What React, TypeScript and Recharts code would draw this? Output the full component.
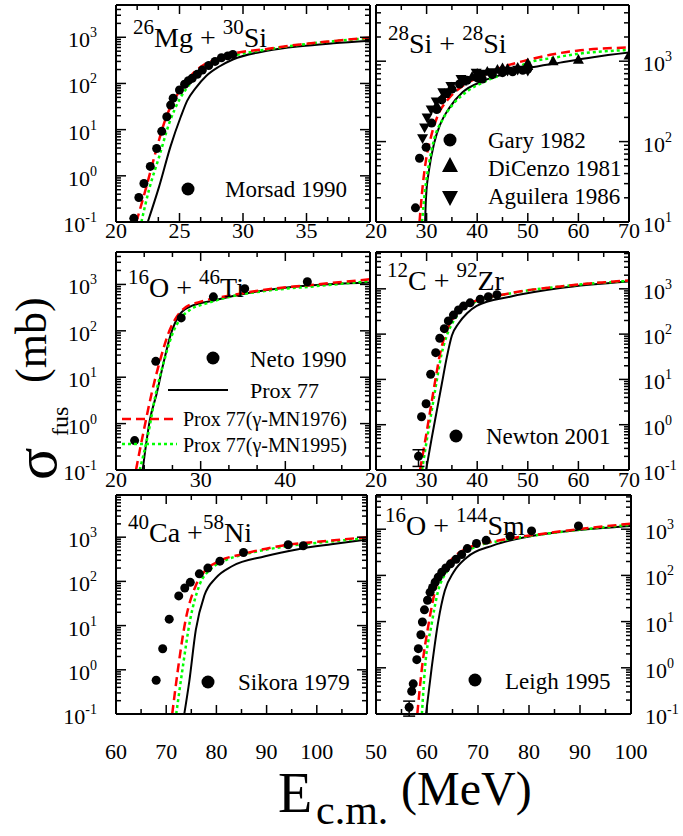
import React from 'react';
import { ComposedChart, Line, Scatter, XAxis, YAxis, ErrorBar } from 'recharts';

type Pt = [number, number];

const FONT = '"Liberation Serif", "Times New Roman", serif';

// 26Mg + 30Si
const mgSiMorsad: Pt[] = [
  [21.4, 0.12], [21.8, 0.34], [22.2, 0.68], [22.7, 1.6], [23.2, 3.9], [23.6, 9.2], [24.0, 19],
  [24.3, 34], [24.5, 48], [25.0, 72], [25.4, 96], [25.7, 115], [26.0, 130], [26.4, 158],
  [26.8, 195], [27.3, 245], [27.8, 300], [28.3, 360], [28.8, 395], [29.2, 425],
];
const mgSiProx77: Pt[] = [
  [22.5, 0.1], [23.4, 0.59], [24.3, 4.4], [25.1, 19], [25.6, 42], [26.3, 81], [27.1, 145],
  [28.1, 230], [29.2, 330], [31.9, 510], [34.5, 640], [37.1, 740], [40, 840],
];
const mgSiMN1976: Pt[] = [
  [21.6, 0.1], [22.4, 0.59], [23.1, 3.1], [23.9, 17], [24.6, 45], [25.3, 87], [26.0, 158],
  [26.95, 257], [27.9, 333], [28.9, 420], [31.9, 560], [34.5, 700], [37.1, 830], [40, 990],
];
const mgSiMN1995: Pt[] = [
  [22.0, 0.1], [22.6, 0.5], [23.4, 2.6], [24.2, 14], [25.0, 45], [25.8, 96], [26.6, 170],
  [27.6, 280], [28.7, 365], [30.1, 450], [32, 550], [34.5, 690], [37.1, 820], [40, 960],
];

// 28Si + 28Si
const siSiGary: Pt[] = [
  [27.8, 15], [28.6, 62], [29.9, 85], [31, 170], [32, 250], [33, 330], [34, 400], [35, 450],
  [36.5, 520], [38, 580], [40, 620], [41, 600], [43, 680], [45, 720], [47, 740], [49, 770], [50, 800],
];
const siSiDiCenzo: Pt[] = [
  [32, 280], [33.5, 390], [35, 470], [37, 560], [39, 640], [40, 700], [42, 740], [44, 780],
  [45, 820], [46, 800], [48, 830], [50, 870], [50, 940], [55, 1000], [60, 1040], [70, 1180],
];
const siSiAguilera: Pt[] = [
  [29.2, 110], [29.6, 150], [30.1, 200], [30.9, 250], [31.9, 316], [33.2, 410], [34.8, 490],
  [36.8, 600], [39.8, 720], [41, 700], [43, 730], [46, 760], [48, 780], [50, 760],
];
const siSiProx77: Pt[] = [
  [29.7, 10], [29.9, 21], [30.5, 45], [31.5, 96], [32.8, 170], [34.5, 263], [37.1, 410],
  [41.1, 565], [46.3, 720], [50, 820], [56.4, 960], [62.9, 1120], [70, 1280],
];
const siSiMN1976: Pt[] = [
  [28.6, 10], [29.2, 27], [29.9, 60], [30.9, 117], [32.2, 210], [34.2, 333], [37.1, 490],
  [41.1, 660], [44.8, 835], [50.1, 1040], [55, 1220], [59.7, 1350], [70, 1480],
];
const siSiMN1995: Pt[] = [
  [29.1, 10], [29.7, 25], [30.5, 54], [31.5, 107], [33.2, 190], [35.2, 290], [38.1, 425],
  [41.7, 565], [46.3, 740], [50.1, 960], [55, 1100], [59.7, 1230], [70, 1380],
];

// 16O + 46Ti
const oTiNeto: Pt[] = [[22.2, 0.43], [24.7, 22], [27.7, 190], [31.5, 540], [35.2, 810], [42.6, 1140]];
const oTiProx77: Pt[] = [
  [23.15, 0.1], [24.0, 1.2], [24.8, 4.4], [25.6, 20], [26.4, 76], [27.4, 210], [28.7, 330],
  [31.5, 450], [35.8, 660], [41.7, 910], [50, 1100],
];
const oTiMN1976: Pt[] = [
  [22.36, 0.1], [23.2, 0.6], [24.2, 4.4], [25.2, 23], [26.2, 89], [27.2, 205], [28.3, 330],
  [29.9, 420], [34, 600], [37.8, 780], [43.7, 1000], [50, 1290],
];
const oTiMN1995: Pt[] = [
  [22.8, 0.1], [23.8, 0.6], [24.7, 4.4], [25.7, 23], [26.6, 80], [27.6, 180], [28.7, 280],
  [30.7, 390], [33.8, 560], [37.8, 730], [43.7, 920], [50, 1180],
];

// 12C + 92Zr
const cZrNewton: Pt[] = [
  [29.0, 1.5], [29.9, 2.9], [30.8, 13], [31.8, 39], [32.6, 81], [33.5, 132], [34.3, 196],
  [35.3, 263], [36.3, 340], [37.3, 415], [38.6, 490], [40.6, 590], [42.2, 670], [43.9, 740],
];
const cZrNewtonLow = { e: 28.4, s: 0.2, err: 0.08 };
const cZrProx77: Pt[] = [
  [29.9, 0.1], [31.0, 0.5], [32.0, 2.0], [33.0, 7.9], [34.0, 31], [35.0, 93], [36.3, 171],
  [38.0, 288], [39.9, 420], [46.5, 670], [56.4, 1040], [70, 1450],
];
const cZrMN1976: Pt[] = [
  [28.7, 0.1], [29.7, 0.43], [30.7, 2.0], [31.7, 9.3], [32.6, 34], [33.6, 93], [35.0, 204],
  [36.6, 340], [38.6, 480], [46.5, 800], [56.4, 1130], [70, 1530],
];
const cZrMN1995: Pt[] = [
  [29.1, 0.1], [30.0, 0.43], [31.0, 2.0], [32.0, 9.3], [32.9, 34], [34.0, 93], [35.4, 200],
  [37.0, 330], [39.0, 470], [46.5, 790], [56.4, 1120], [70, 1500],
];

// 40Ca + 58Ni
const caNiSikora: Pt[] = [
  [68.0, 0.58], [69.3, 3.0], [70.6, 14], [72.5, 47], [73.7, 71], [74.8, 95], [76.6, 148],
  [78.3, 200], [80.7, 287], [85.4, 450], [94.3, 675], [97.3, 640],
];
const caNiProx77: Pt[] = [
  [73.6, 0.1], [74.6, 0.55], [75.9, 8], [77.6, 48], [79.8, 117], [83.1, 220], [89.7, 370],
  [96.3, 535], [102.9, 690], [110, 880],
];
const caNiMN1976: Pt[] = [
  [71.2, 0.1], [72.3, 0.95], [73.9, 14], [75.9, 81], [77.9, 182], [80.5, 287], [85.1, 410],
  [93, 640], [102.9, 840], [110, 1000],
];
const caNiMN1995: Pt[] = [
  [72.0, 0.1], [73.2, 0.95], [74.8, 14], [76.6, 81], [78.9, 190], [81.8, 300], [86.4, 430],
  [93, 600], [102.9, 800], [110, 950],
];

// 16O + 144Sm
const oSmLeigh: Pt[] = [
  [57, 0.31], [57.3, 0.45], [58, 1.5], [58.3, 2.6], [58.8, 5.2], [59.1, 9.8], [59.5, 18],
  [60.1, 29], [60.6, 43], [61.1, 55], [61.6, 71], [62.2, 91], [62.9, 117], [63.7, 145],
  [64.6, 178], [65.7, 224], [66.8, 282], [67.9, 380], [69.7, 490], [71.6, 575], [76.3, 700],
  [80.5, 920], [89.7, 1180],
];
const oSmLeighLow = { e: 56.5, s: 0.14, err: 0.05 };
const oSmProx77: Pt[] = [
  [59.8, 0.1], [60.9, 0.97], [62.2, 10], [63.5, 47], [65.2, 117], [67.8, 245], [73, 447],
  [79.5, 680], [89.4, 950], [100, 1180],
];
const oSmMN1976: Pt[] = [
  [58.1, 0.1], [59, 0.97], [60.3, 8.7], [61.6, 47], [63.2, 126], [65.2, 245], [68.4, 410],
  [74.3, 575], [82.8, 800], [100, 1320],
];
const oSmMN1995: Pt[] = [
  [59, 0.1], [59.6, 0.97], [60.9, 8.7], [62.2, 47], [64, 126], [66.1, 245], [69.4, 410],
  [75, 575], [82.8, 780], [100, 1250],
];

const toRows = (pts: Pt[]) => pts.map(([e, s]) => ({ e, s }));

type Shape = 'circle' | 'up' | 'down';

interface PanelCfg {
  left: number; top: number; w: number; h: number;
  x0: number; x1: number; xMajor: number; xMinor: number; xLabels: number[]; xLabelDy: number;
  y0: number; y1: number; ySide: 'left' | 'right';
  prox: Pt[]; mn1976: Pt[]; mn1995: Pt[];
  sets: { pts: Pt[]; shape: Shape }[];
  errPt?: { e: number; s: number; err: number };
}

// outer space around each plot box; axes take AX of it
const PAD = 70;
const AX = 30;
const M = { top: PAD - AX, right: PAD - AX, bottom: PAD - AX, left: PAD - AX };

const linTicks = (a: number, b: number, step: number) => {
  const n = Math.round((b - a) / step);
  return Array.from({ length: n + 1 }, (_, i) => +(a + i * step).toFixed(4));
};

const logTicks = (a: number, b: number) => {
  const out: number[] = [];
  for (let d = Math.floor(Math.log10(a)); d <= Math.ceil(Math.log10(b)); d++) {
    for (let m = 1; m < 10; m++) {
      const v = +(m * Math.pow(10, d)).toPrecision(6);
      if (v >= a - 1e-9 && v <= b + 1e-9) out.push(v);
    }
  }
  return out;
};

const shapeFor = (s: Shape, r: number) => (p: any) => {
  const { cx, cy } = p;
  if (s === 'circle') return <circle cx={cx} cy={cy} r={r} fill="#000" />;
  const k = s === 'up' ? 1 : -1;
  return (
    <polygon
      points={`${cx},${cy - k * r * 1.15} ${cx - r * 1.1},${cy + k * r * 0.8} ${cx + r * 1.1},${cy + k * r * 0.8}`}
      fill="#000"
    />
  );
};

function Panel({ cfg }: { cfg: PanelCfg }) {
  const W = cfg.w + PAD * 2;
  const H = cfg.h + PAD * 2;
  const xt = linTicks(cfg.x0, cfg.x1, cfg.xMinor);
  const yt = logTicks(cfg.y0, cfg.y1);
  const axisLine = { stroke: '#000', strokeWidth: 2 };

  const xTick = (side: 'bottom' | 'top') => (p: any) => {
    const { x, y, payload } = p;
    const v = payload.value;
    const major = Math.abs(v / cfg.xMajor - Math.round(v / cfg.xMajor)) < 1e-3;
    const len = major ? 9 : 5;
    const dir = side === 'bottom' ? -1 : 1;
    const showLabel = side === 'bottom' && major && cfg.xLabels.some((l) => Math.abs(l - v) < 1e-6);
    return (
      <g>
        <line x1={x} y1={y} x2={x} y2={y + dir * len} stroke="#000" strokeWidth={1.5} />
        {showLabel && (
          <text x={x} y={y + cfg.xLabelDy} textAnchor="middle" fontSize={22} fontFamily={FONT} fill="#000">
            {Math.round(v)}
          </text>
        )}
      </g>
    );
  };

  const yTick = (side: 'left' | 'right') => (p: any) => {
    const { x, y, payload } = p;
    const v = payload.value;
    const lg = Math.log10(v);
    const major = Math.abs(lg - Math.round(lg)) < 1e-6;
    const len = major ? 10 : 5;
    const dir = side === 'left' ? 1 : -1;
    const showLabel = major && side === cfg.ySide;
    return (
      <g>
        <line x1={x} y1={y} x2={x + dir * len} y2={y} stroke="#000" strokeWidth={1.5} />
        {showLabel && (
          <text
            x={side === 'left' ? x - 19 : x + 14}
            y={y + 10}
            textAnchor={side === 'left' ? 'end' : 'start'}
            fontSize={22}
            fontFamily={FONT}
            fill="#000"
          >
            10
            <tspan dy={-10} fontSize={14}>{Math.round(lg)}</tspan>
          </text>
        )}
      </g>
    );
  };

  const common = {
    type: 'number' as const,
    domain: [cfg.x0, cfg.x1],
    allowDataOverflow: true,
    ticks: xt,
    interval: 0 as const,
    tickSize: 0,
    tickMargin: 0,
    tickLine: false,
    height: AX,
    axisLine,
  };
  const commonY = {
    type: 'number' as const,
    scale: 'log' as const,
    domain: [cfg.y0, cfg.y1],
    allowDataOverflow: true,
    ticks: yt,
    interval: 0 as const,
    tickSize: 0,
    tickMargin: 0,
    tickLine: false,
    width: AX,
    axisLine,
  };

  return (
    <div style={{ position: 'absolute', left: cfg.left - PAD, top: cfg.top - PAD }}>
      <ComposedChart width={W} height={H} margin={M}>
        <XAxis xAxisId="b" orientation="bottom" dataKey="e" {...common} tick={xTick('bottom')} />
        <XAxis xAxisId="t" orientation="top" dataKey="e" {...common} tick={xTick('top')} />
        <YAxis yAxisId="l" orientation="left" dataKey="s" {...commonY} tick={yTick('left')} />
        <YAxis yAxisId="r" orientation="right" dataKey="s" {...commonY} tick={yTick('right')} />
        <Line xAxisId="b" yAxisId="l" data={toRows(cfg.prox)} dataKey="s" type="monotone"
          stroke="#000" strokeWidth={2} dot={false} isAnimationActive={false} />
        <Line xAxisId="b" yAxisId="l" data={toRows(cfg.mn1995)} dataKey="s" type="monotone"
          stroke="#00ff00" strokeWidth={2.5} strokeDasharray="3 3" dot={false} isAnimationActive={false} />
        <Line xAxisId="b" yAxisId="l" data={toRows(cfg.mn1976)} dataKey="s" type="monotone"
          stroke="#ff0000" strokeWidth={2.5} strokeDasharray="9 5" dot={false} isAnimationActive={false} />
        {cfg.sets.map((s, i) => (
          <Scatter key={i} xAxisId="b" yAxisId="l" data={toRows(s.pts)} dataKey="s"
            shape={shapeFor(s.shape, s.shape === 'circle' ? 4.5 : 5)} isAnimationActive={false} />
        ))}
        {cfg.errPt && (
          <Scatter xAxisId="b" yAxisId="l" data={[cfg.errPt]} dataKey="s"
            shape={shapeFor('circle', 4.5)} isAnimationActive={false}>
            <ErrorBar dataKey="err" direction="y" width={6} stroke="#000" strokeWidth={1.5} />
          </Scatter>
        )}
      </ComposedChart>
    </div>
  );
}

const panels: PanelCfg[] = [
  {
    left: 116, top: 5, w: 254, h: 217, x0: 20, x1: 40, xMajor: 5, xMinor: 5 / 3,
    xLabels: [20, 25, 30, 35], xLabelDy: 16, y0: 0.1, y1: 5000, ySide: 'left',
    prox: mgSiProx77, mn1976: mgSiMN1976, mn1995: mgSiMN1995,
    sets: [{ pts: mgSiMorsad, shape: 'circle' }],
  },
  {
    left: 376, top: 5, w: 253, h: 217, x0: 20, x1: 70, xMajor: 10, xMinor: 5,
    xLabels: [20, 30, 40, 50, 60, 70], xLabelDy: 16, y0: 10, y1: 5000, ySide: 'right',
    prox: siSiProx77, mn1976: siSiMN1976, mn1995: siSiMN1995,
    sets: [
      { pts: siSiGary, shape: 'circle' },
      { pts: siSiDiCenzo, shape: 'up' },
      { pts: siSiAguilera, shape: 'down' },
    ],
  },
  {
    left: 116, top: 252, w: 254, h: 218, x0: 20, x1: 50, xMajor: 10, xMinor: 10 / 3,
    xLabels: [20, 30, 40], xLabelDy: 17, y0: 0.1, y1: 5000, ySide: 'left',
    prox: oTiProx77, mn1976: oTiMN1976, mn1995: oTiMN1995,
    sets: [{ pts: oTiNeto, shape: 'circle' }],
  },
  {
    left: 376, top: 252, w: 253, h: 218, x0: 20, x1: 70, xMajor: 10, xMinor: 5,
    xLabels: [20, 30, 40, 50, 60, 70], xLabelDy: 17, y0: 0.1, y1: 6500, ySide: 'right',
    prox: cZrProx77, mn1976: cZrMN1976, mn1995: cZrMN1995,
    sets: [{ pts: cZrNewton, shape: 'circle' }],
    errPt: cZrNewtonLow,
  },
  {
    left: 116, top: 495, w: 251, h: 219, x0: 60, x1: 110, xMajor: 10, xMinor: 5,
    xLabels: [60, 70, 80, 90, 100], xLabelDy: 45, y0: 0.1, y1: 9000, ySide: 'left',
    prox: caNiProx77, mn1976: caNiMN1976, mn1995: caNiMN1995,
    sets: [{ pts: caNiSikora, shape: 'circle' }],
  },
  {
    left: 376, top: 495, w: 255, h: 219, x0: 50, x1: 100, xMajor: 10, xMinor: 5,
    xLabels: [50, 60, 70, 80, 90, 100], xLabelDy: 45, y0: 0.1, y1: 5500, ySide: 'right',
    prox: oSmProx77, mn1976: oSmMN1976, mn1995: oSmMN1995,
    sets: [{ pts: oSmLeigh, shape: 'circle' }],
    errPt: oSmLeighLow,
  },
];

function Title({ x, y, parts }: { x: number; y: number; parts: [string, boolean][] }) {
  return (
    <text x={x} y={y} fontFamily={FONT} fill="#000" style={{ whiteSpace: 'pre' }}>
      {parts.map(([t, sup], i) => (
        <tspan key={i} y={sup ? y - 13 : y} fontSize={sup ? 21 : 28}>{t}</tspan>
      ))}
    </text>
  );
}

const LegendText = ({ x, y, size, children }: { x: number; y: number; size: number; children: React.ReactNode }) => (
  <text x={x} y={y} fontSize={size} fontFamily={FONT} fill="#000">{children}</text>
);

export default function App() {
  return (
    <div style={{ position: 'absolute', left: 0, top: 0, width: 683, height: 836, background: '#fff', overflow: 'hidden' }}>
      {panels.map((p, i) => <Panel key={i} cfg={p} />)}
      <svg width={683} height={836} style={{ position: 'absolute', left: 0, top: 0, pointerEvents: 'none' }}>
        <Title x={133} y={47} parts={[['26', true], ['Mg + ', false], ['30', true], ['Si', false]]} />
        <Title x={388} y={53} parts={[['28', true], ['Si + ', false], ['28', true], ['Si', false]]} />
        <Title x={128} y={297} parts={[['16', true], ['O + ', false], ['46', true], ['Ti', false]]} />
        <Title x={387} y={290} parts={[['12', true], ['C + ', false], ['92', true], ['Zr', false]]} />
        <Title x={128} y={542} parts={[['40', true], ['Ca +', false], ['58', true], ['Ni', false]]} />
        <Title x={385} y={535} parts={[['16', true], ['O + ', false], ['144', true], ['Sm', false]]} />

        {/* panel legends */}
        <circle cx={188} cy={189} r={6.5} fill="#000" />
        <LegendText x={225} y={197} size={23}>Morsad 1990</LegendText>

        <circle cx={450} cy={140} r={6.5} fill="#000" />
        <polygon points="450,157 442,172 458,172" fill="#000" />
        <polygon points="450,206 442,191 458,191" fill="#000" />
        <LegendText x={488} y={148} size={23}>Gary 1982</LegendText>
        <LegendText x={488} y={176} size={23}>DiCenzo 1981</LegendText>
        <LegendText x={488} y={204} size={23}>Aguilera 1986</LegendText>

        <circle cx={213} cy={358} r={6.5} fill="#000" />
        <LegendText x={250} y={367} size={23}>Neto 1990</LegendText>
        <line x1={168} y1={390} x2={228} y2={390} stroke="#000" strokeWidth={2} />
        <LegendText x={250} y={398} size={22}>Prox 77</LegendText>
        <line x1={122} y1={419} x2={177} y2={419} stroke="#ff0000" strokeWidth={2.5} strokeDasharray="9 5" />
        <LegendText x={183} y={426} size={20}>Prox 77(γ-MN1976)</LegendText>
        <line x1={122} y1={444} x2={177} y2={444} stroke="#00ff00" strokeWidth={2.5} strokeDasharray="3 3" />
        <LegendText x={183} y={452} size={20}>Prox 77(γ-MN1995)</LegendText>

        <circle cx={456} cy={436} r={6.5} fill="#000" />
        <LegendText x={486} y={444} size={23}>Newton 2001</LegendText>

        <circle cx={208} cy={682} r={6.5} fill="#000" />
        <LegendText x={238} y={690} size={23}>Sikora 1979</LegendText>

        <circle cx={475} cy={680} r={6.5} fill="#000" />
        <LegendText x={505} y={689} size={23}>Leigh 1995</LegendText>

        {/* axis titles */}
        <text transform="translate(56,480) rotate(-90)" fontSize={60} fontFamily={FONT} fill="#000">σ</text>
        <text transform="translate(68,436) rotate(-90)" fontSize={24} fontFamily={FONT} fill="#000">fus</text>
        <text transform="translate(46,383) rotate(-90)" fontSize={44} fontFamily={FONT} fill="#000">(mb)</text>

        <text x={278} y={812} fontSize={56} fontFamily={FONT} fill="#000">E</text>
        <text x={316} y={824} fontSize={42} fontFamily={FONT} fill="#000">c.m.</text>
        <text x={401} y={805} fontSize={48} fontFamily={FONT} fill="#000">(MeV)</text>
      </svg>
    </div>
  );
}
